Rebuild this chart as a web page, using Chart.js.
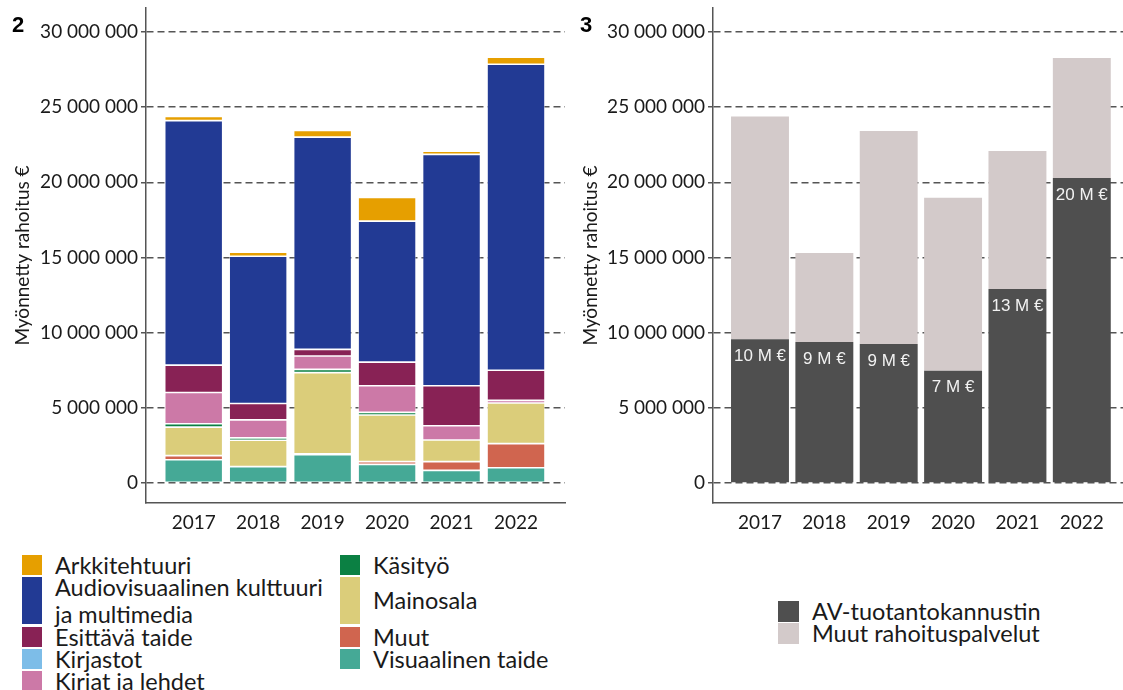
<!DOCTYPE html>
<html>
<head>
<meta charset="utf-8">
<script src="https://cdn.jsdelivr.net/npm/chart.js@4"></script>
<style>
  body { margin: 0; background: #fff; width: 1123px; height: 690px; position: relative; overflow: hidden; font-family: Lato, sans-serif; color: #1a1a1a; }
  .panel { position: absolute; top: 0; }
  .tag { position: absolute; top: 12px; font: bold 22px "Liberation Sans", Arial, sans-serif; color: #000; }
  .legend { position: absolute; font-size: 23.5px; }
  .item { position: absolute; display: flex; align-items: center; }
  .box { flex: none; }
  .lab { line-height: 27px; white-space: pre; margin-left: 13px; }
</style>
</head>
<body>
<div class="panel" style="left:0;width:568px;height:540px"><canvas id="c1" width="568" height="540"></canvas></div>
<div class="panel" style="left:568px;width:555px;height:540px"><canvas id="c2" width="555" height="540"></canvas></div>
<div class="tag" style="left:12px">2</div>
<div class="tag" style="left:580px">3</div>
<div class="legend" id="leg1"></div>
<div class="legend" id="leg2"></div>
<script>
// years on the x axis
const years = ['2017', '2018', '2019', '2020', '2021', '2022'];
const yTicks = [0, 5000000, 10000000, 15000000, 20000000, 25000000, 30000000];

// chart 2: funding by sector (euros), legend order
const arkkitehtuuri = [270000, 270000, 440000, 1570000, 220000, 460000];
const audiovisuaalinen = [16270000, 9800000, 14120000, 9380000, 15390000, 20360000];
const esittava = [1820000, 1090000, 440000, 1570000, 2660000, 2000000];
const kirjastot = [0, 0, 0, 0, 0, 0];
const kirjat = [2080000, 1200000, 890000, 1770000, 950000, 180000];
const kasityo = [220000, 160000, 220000, 180000, 0, 0];
const mainosala = [1900000, 1750000, 5390000, 3100000, 1440000, 2700000];
const muut = [270000, 0, 70000, 180000, 580000, 1600000];
const visuaalinen = [1550000, 1090000, 1880000, 1240000, 840000, 1020000];

// chart 3: AV incentive vs other funding services (euros)
const avKannustin = [9560000, 9380000, 9250000, 7470000, 12900000, 20290000];
const muutPalvelut = [14830000, 5920000, 14160000, 11510000, 9180000, 7990000];

const sectors = [
  { label: 'Arkkitehtuuri', data: arkkitehtuuri, color: '#E69F00', rows: 1 },
  { label: 'Audiovisuaalinen kulttuuri\nja multimedia', data: audiovisuaalinen, color: '#223A94', rows: 2 },
  { label: 'Esittävä taide', data: esittava, color: '#882255', rows: 1 },
  { label: 'Kirjastot', data: kirjastot, color: '#7DBDE8', rows: 1 },
  { label: 'Kirjat ja lehdet', data: kirjat, color: '#CC79A7', rows: 1 },
  { label: 'Käsityö', data: kasityo, color: '#0B8043', rows: 1 },
  { label: 'Mainosala', data: mainosala, color: '#DBCD7A', rows: 2 },
  { label: 'Muut', data: muut, color: '#D0654F', rows: 1 },
  { label: 'Visuaalinen taide', data: visuaalinen, color: '#45A996', rows: 1 }
];
const funding = [
  { label: 'AV-tuotantokannustin', data: avKannustin, color: '#4F4F4F' },
  { label: 'Muut rahoituspalvelut', data: muutPalvelut, color: '#D3CACA' }
];

function fmt(v) {
  return String(v).replace(/\B(?=(\d{3})+(?!\d))/g, ' ');
}

function makeOptions(xmin, xmax, yWidth, padRight) {
  return {
    responsive: false,
    animation: false,
    layout: { padding: { left: 0, right: padRight, top: 8, bottom: 0 } },
    plugins: { legend: { display: false }, tooltip: { enabled: false } },
    scales: {
      x: {
        type: 'linear',
        min: xmin,
        max: xmax,
        offset: false,
        stacked: true,
        afterFit: s => { s.height = 37; },
        afterBuildTicks: s => { s.ticks = years.map((y, i) => ({ value: i })); },
        ticks: { callback: v => years[v], font: { family: 'Lato', size: 19 }, color: '#1a1a1a', padding: 8, maxRotation: 0, autoSkip: false },
        grid: { display: false, drawTicks: false, offset: false },
        border: { display: true, color: '#555', width: 1.5 }
      },
      y: {
        min: -1330000,
        max: 31600000,
        stacked: true,
        afterFit: s => { s.width = yWidth; s.paddingTop = 0; s.paddingBottom = 0; },
        afterBuildTicks: s => { s.ticks = yTicks.map(v => ({ value: v })); },
        ticks: { callback: v => fmt(v), font: { family: 'Lato', size: 19 }, color: '#1a1a1a', padding: 3 },
        grid: { color: '#555', lineWidth: 1.5, tickLength: 5, tickColor: '#555', tickWidth: 1.5 },
        border: { display: true, color: '#555', width: 1.5, dash: [7, 4] },
        title: { display: true, text: 'Myönnetty rahoitus €', font: { family: 'Lato', size: 19 }, color: '#1a1a1a', padding: { top: 11, bottom: 0 } }
      }
    }
  };
}

function toPoints(arr) {
  return arr.map((v, i) => ({ x: i, y: v }));
}

// chart 2 – bottom of stack is the last legend entry
const ds1 = sectors.slice().reverse().map(s => ({
  label: s.label,
  data: toPoints(s.data),
  backgroundColor: s.color,
  borderColor: 'rgba(255,255,255,0.55)',
  borderWidth: 0.8,
  borderSkipped: false,
  barPercentage: 0.9,
  categoryPercentage: 1
}));
new Chart(document.getElementById('c1'), {
  type: 'bar',
  data: { datasets: ds1 },
  options: makeOptions(-0.74, 5.76, 146, 3)
});

// white value labels at the top of the AV incentive bars
const barLabels = {
  id: 'barLabels',
  afterDatasetsDraw(chart) {
    const ctx = chart.ctx;
    const meta = chart.getDatasetMeta(0);
    ctx.save();
    ctx.font = '17px "Liberation Sans", Arial, sans-serif';
    ctx.fillStyle = '#f2f2f2';
    ctx.textAlign = 'center';
    ctx.textBaseline = 'middle';
    meta.data.forEach((bar, i) => {
      const v = avKannustin[i];
      ctx.fillText(Math.round(v / 1000000) + ' M €', bar.x, bar.y + 17);
    });
    ctx.restore();
  }
};

const ds2 = funding.map(s => ({
  label: s.label,
  data: toPoints(s.data),
  backgroundColor: s.color,
  borderWidth: 0,
  barPercentage: 0.9,
  categoryPercentage: 1
}));
new Chart(document.getElementById('c2'), {
  type: 'bar',
  data: { datasets: ds2 },
  options: makeOptions(-0.73, 5.64, 145, 0),
  plugins: [barLabels]
});

// legends
function addItem(el, x, y, h, w, color, text) {
  const d = document.createElement('div');
  d.className = 'item';
  d.style.left = x + 'px';
  d.style.top = y + 'px';
  d.style.height = h + 'px';
  const b = document.createElement('div');
  b.className = 'box';
  b.style.width = w + 'px';
  b.style.height = h + 'px';
  b.style.background = color;
  const t = document.createElement('div');
  t.className = 'lab';
  t.textContent = text;
  d.appendChild(b);
  d.appendChild(t);
  el.appendChild(d);
}

const leg1 = document.getElementById('leg1');
let yy = 555, col = 0;
sectors.forEach((s, i) => {
  if (i === 5) { col = 1; yy = 555; }
  const h = s.rows === 2 ? 47 : 20;
  addItem(leg1, col === 0 ? 22 : 340, yy, h, 20, s.color, s.label);
  yy += s.rows === 2 ? 50 : 22;
});

const leg2 = document.getElementById('leg2');
funding.forEach((s, i) => {
  addItem(leg2, 778, 601 + i * 22, 21, 21, s.color, s.label);
});
</script>
</body>
</html>
